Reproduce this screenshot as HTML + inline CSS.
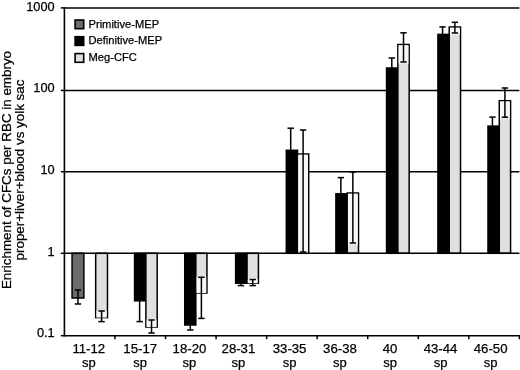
<!DOCTYPE html>
<html><head><meta charset="utf-8"><title>chart</title>
<style>html,body{margin:0;padding:0;background:#fff}svg{display:block;will-change:transform}text{font-family:"Liberation Sans",Arial,Helvetica,sans-serif;fill:#000;stroke:#000;stroke-width:.25px}</style></head>
<body>
<svg width="520" height="370" viewBox="0 0 520 370">
<rect width="520" height="370" fill="#fff"/>
<g stroke="#000" stroke-width="1.5">
<line x1="64.4" y1="7.90" x2="519.4" y2="7.90"/>
<line x1="64.4" y1="90.45" x2="519.4" y2="90.45"/>
<line x1="64.4" y1="171.70" x2="519.4" y2="171.70"/>
</g>
<g stroke="#000" stroke-width="1.5">
<rect x="72.08" y="253.30" width="11.8" height="44.70" fill="#6b6b6b"/>
<rect x="95.68" y="253.30" width="11.8" height="64.30" fill="#e0e0e0"/>
<rect x="134.58" y="253.30" width="11.3" height="47.50" fill="#000"/>
<rect x="145.88" y="253.30" width="11.3" height="73.70" fill="#e0e0e0"/>
<rect x="184.74" y="253.30" width="11.1" height="71.70" fill="#000"/>
<rect x="195.84" y="253.30" width="11.1" height="39.70" fill="#e0e0e0"/>
<rect x="235.64" y="253.30" width="11.4" height="29.90" fill="#000"/>
<rect x="247.04" y="253.30" width="11.4" height="29.80" fill="#e0e0e0"/>
<rect x="286.30" y="150.30" width="11.2" height="103.00" fill="#000"/>
<rect x="297.50" y="154.00" width="11.2" height="99.30" fill="#e0e0e0"/>
<rect x="335.91" y="193.80" width="11.3" height="59.50" fill="#000"/>
<rect x="347.21" y="193.00" width="11.3" height="60.30" fill="#e0e0e0"/>
<rect x="386.56" y="68.00" width="11.3" height="185.30" fill="#000"/>
<rect x="397.86" y="44.50" width="11.3" height="208.80" fill="#e0e0e0"/>
<rect x="437.92" y="34.40" width="11.3" height="218.90" fill="#000"/>
<rect x="449.22" y="27.00" width="11.3" height="226.30" fill="#e0e0e0"/>
<rect x="487.97" y="126.10" width="11.3" height="127.20" fill="#000"/>
<rect x="499.27" y="100.70" width="11.3" height="152.60" fill="#e0e0e0"/>
</g>
<rect x="96.43" y="310.75" width="10.30" height="6.85" fill="#f7f7f7"/>
<rect x="146.63" y="319.75" width="9.80" height="7.25" fill="#f7f7f7"/>
<rect x="196.59" y="277.05" width="9.60" height="15.95" fill="#f7f7f7"/>
<rect x="247.79" y="279.35" width="9.90" height="3.75" fill="#f7f7f7"/>
<rect x="298.25" y="154.75" width="9.70" height="98.55" fill="#f7f7f7"/>
<rect x="347.96" y="193.75" width="9.80" height="50.75" fill="#f7f7f7"/>
<rect x="398.61" y="45.25" width="9.80" height="18.25" fill="#f7f7f7"/>
<rect x="449.97" y="27.75" width="9.80" height="6.75" fill="#f7f7f7"/>
<rect x="500.02" y="101.45" width="9.80" height="17.25" fill="#f7f7f7"/>
<g stroke="#000" stroke-width="1.5">
<line x1="77.98" y1="290.00" x2="77.98" y2="304.00"/>
<line x1="74.78" y1="290.00" x2="81.18" y2="290.00"/>
<line x1="74.78" y1="304.00" x2="81.18" y2="304.00"/>
<line x1="101.58" y1="311.00" x2="101.58" y2="321.60"/>
<line x1="98.38" y1="311.00" x2="104.78" y2="311.00"/>
<line x1="98.38" y1="321.60" x2="104.78" y2="321.60"/>
<line x1="139.63" y1="300.80" x2="139.63" y2="321.60"/>
<line x1="136.43" y1="321.60" x2="142.83" y2="321.60"/>
<line x1="151.53" y1="320.00" x2="151.53" y2="333.00"/>
<line x1="148.33" y1="320.00" x2="154.73" y2="320.00"/>
<line x1="148.33" y1="333.00" x2="154.73" y2="333.00"/>
<line x1="190.29" y1="325.00" x2="190.29" y2="330.00"/>
<line x1="187.09" y1="330.00" x2="193.49" y2="330.00"/>
<line x1="201.39" y1="277.30" x2="201.39" y2="318.40"/>
<line x1="198.19" y1="277.30" x2="204.59" y2="277.30"/>
<line x1="198.19" y1="318.40" x2="204.59" y2="318.40"/>
<line x1="240.94" y1="283.20" x2="240.94" y2="285.60"/>
<line x1="237.74" y1="285.60" x2="244.14" y2="285.60"/>
<line x1="252.74" y1="279.60" x2="252.74" y2="285.60"/>
<line x1="249.54" y1="279.60" x2="255.94" y2="279.60"/>
<line x1="249.54" y1="285.60" x2="255.94" y2="285.60"/>
<line x1="290.70" y1="128.20" x2="290.70" y2="150.30"/>
<line x1="287.50" y1="128.20" x2="293.90" y2="128.20"/>
<line x1="303.10" y1="130.00" x2="303.10" y2="252.00"/>
<line x1="299.90" y1="130.00" x2="306.30" y2="130.00"/>
<line x1="299.90" y1="252.00" x2="306.30" y2="252.00"/>
<line x1="340.86" y1="177.60" x2="340.86" y2="193.80"/>
<line x1="337.66" y1="177.60" x2="344.06" y2="177.60"/>
<line x1="352.86" y1="172.00" x2="352.86" y2="243.00"/>
<line x1="349.66" y1="172.00" x2="356.06" y2="172.00"/>
<line x1="349.66" y1="243.00" x2="356.06" y2="243.00"/>
<line x1="391.81" y1="58.00" x2="391.81" y2="68.00"/>
<line x1="388.61" y1="58.00" x2="395.01" y2="58.00"/>
<line x1="403.51" y1="32.80" x2="403.51" y2="62.00"/>
<line x1="400.31" y1="32.80" x2="406.71" y2="32.80"/>
<line x1="400.31" y1="62.00" x2="406.71" y2="62.00"/>
<line x1="442.57" y1="26.90" x2="442.57" y2="34.40"/>
<line x1="439.37" y1="26.90" x2="445.77" y2="26.90"/>
<line x1="454.87" y1="22.30" x2="454.87" y2="33.00"/>
<line x1="451.67" y1="22.30" x2="458.07" y2="22.30"/>
<line x1="451.67" y1="33.00" x2="458.07" y2="33.00"/>
<line x1="492.42" y1="117.10" x2="492.42" y2="126.10"/>
<line x1="489.22" y1="117.10" x2="495.62" y2="117.10"/>
<line x1="504.92" y1="88.00" x2="504.92" y2="117.20"/>
<line x1="501.72" y1="88.00" x2="508.12" y2="88.00"/>
<line x1="501.72" y1="117.20" x2="508.12" y2="117.20"/>
</g>
<g stroke="#000" stroke-width="1.5">
<line x1="64.4" y1="253.30" x2="519.4" y2="253.30"/>
<line x1="64.4" y1="7.15" x2="64.4" y2="336.45" stroke-width="1.6"/>
<line x1="64.4" y1="335.70" x2="520.1" y2="335.70"/>
<line x1="114.96" y1="335.70" x2="114.96" y2="339.20"/>
<line x1="165.51" y1="335.70" x2="165.51" y2="339.20"/>
<line x1="216.07" y1="335.70" x2="216.07" y2="339.20"/>
<line x1="266.62" y1="335.70" x2="266.62" y2="339.20"/>
<line x1="317.18" y1="335.70" x2="317.18" y2="339.20"/>
<line x1="367.73" y1="335.70" x2="367.73" y2="339.20"/>
<line x1="418.29" y1="335.70" x2="418.29" y2="339.20"/>
<line x1="468.84" y1="335.70" x2="468.84" y2="339.20"/>
<line x1="519.40" y1="335.70" x2="519.40" y2="339.20"/>
<line x1="60.80" y1="7.90" x2="64.4" y2="7.90"/>
<line x1="60.80" y1="90.45" x2="64.4" y2="90.45"/>
<line x1="60.80" y1="171.70" x2="64.4" y2="171.70"/>
<line x1="60.80" y1="253.30" x2="64.4" y2="253.30"/>
<line x1="60.80" y1="335.70" x2="64.4" y2="335.70"/>
</g>
<text x="54.7" y="10.70" font-size="12.8" text-anchor="end">1000</text>
<text x="54.7" y="92.10" font-size="12.8" text-anchor="end">100</text>
<text x="54.7" y="174.40" font-size="12.8" text-anchor="end">10</text>
<text x="54.7" y="255.70" font-size="12.8" text-anchor="end">1</text>
<text x="54.7" y="337.20" font-size="12.8" text-anchor="end">0.1</text>
<text x="88.78" y="352.9" font-size="13.2" text-anchor="middle">11-12</text>
<text x="88.78" y="366.6" font-size="13" text-anchor="middle">sp</text>
<text x="140.23" y="352.9" font-size="13.2" text-anchor="middle">15-17</text>
<text x="140.23" y="366.6" font-size="13" text-anchor="middle">sp</text>
<text x="189.49" y="352.9" font-size="13.2" text-anchor="middle">18-20</text>
<text x="189.49" y="366.6" font-size="13" text-anchor="middle">sp</text>
<text x="238.44" y="352.9" font-size="13.2" text-anchor="middle">28-31</text>
<text x="238.44" y="366.6" font-size="13" text-anchor="middle">sp</text>
<text x="289.60" y="352.9" font-size="13.2" text-anchor="middle">33-35</text>
<text x="289.60" y="366.6" font-size="13" text-anchor="middle">sp</text>
<text x="339.96" y="352.9" font-size="13.2" text-anchor="middle">36-38</text>
<text x="339.96" y="366.6" font-size="13" text-anchor="middle">sp</text>
<text x="390.01" y="352.9" font-size="13.2" text-anchor="middle">40</text>
<text x="390.01" y="366.6" font-size="13" text-anchor="middle">sp</text>
<text x="440.57" y="352.9" font-size="13.2" text-anchor="middle">43-44</text>
<text x="440.57" y="366.6" font-size="13" text-anchor="middle">sp</text>
<text x="490.62" y="352.9" font-size="13.2" text-anchor="middle">46-50</text>
<text x="490.62" y="366.6" font-size="13" text-anchor="middle">sp</text>
<rect x="75.1" y="20.0" width="8.6" height="8.7" fill="#6b6b6b" stroke="#000" stroke-width="1.6"/>
<text x="88.5" y="27.60" font-size="11.15">Primitive-MEP</text>
<rect x="75.1" y="36.7" width="8.6" height="8.7" fill="#000" stroke="#000" stroke-width="1.6"/>
<text x="88.5" y="44.20" font-size="11.15">Definitive-MEP</text>
<rect x="75.1" y="53.6" width="8.6" height="8.7" fill="#e0e0e0" stroke="#000" stroke-width="1.6"/>
<text x="88.5" y="61.30" font-size="11.15">Meg-CFC</text>
<text transform="translate(10.7,170) rotate(-90)" font-size="13.4" text-anchor="middle">Enrichment of CFCs per RBC in embryo</text>
<text transform="translate(23.7,170) rotate(-90)" font-size="13.4" text-anchor="middle">proper+liver+blood vs yolk sac</text>
</svg>
</body></html>
